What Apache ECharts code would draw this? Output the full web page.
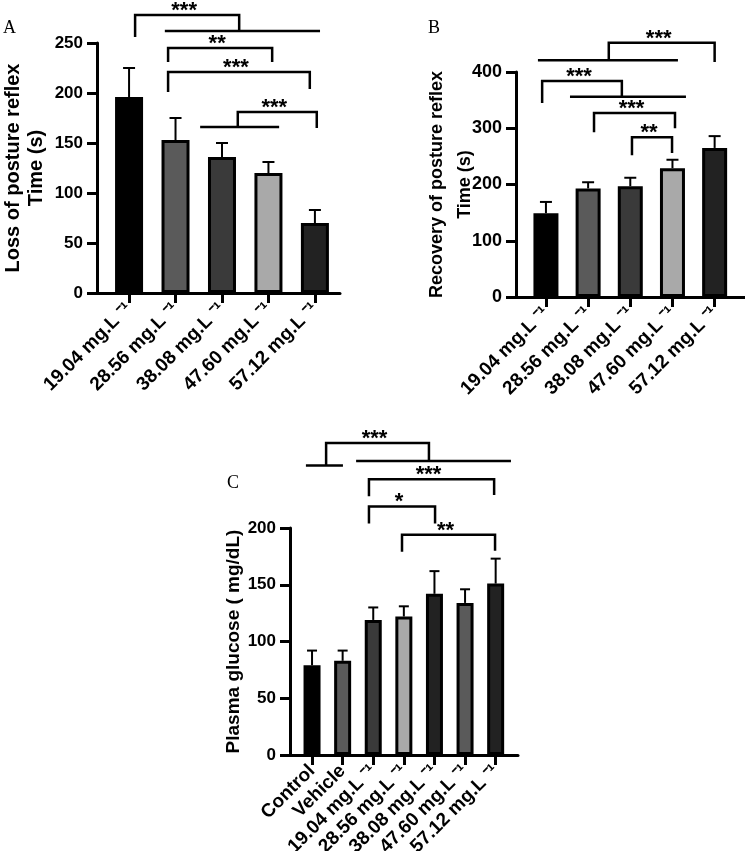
<!DOCTYPE html>
<html>
<head>
<meta charset="utf-8">
<script src="https://cdn.jsdelivr.net/npm/echarts@6/dist/echarts.min.js"></script>
<style>
html, body { margin: 0; padding: 0; background: #fff; }
#main { width: 745px; height: 851px; }
</style>
</head>
<body>
<div id="main"></div>
<script>
// ---- data ----
var dosesAB = ['19.04 mg.L ⁻¹', '28.56 mg.L ⁻¹', '38.08 mg.L ⁻¹', '47.60 mg.L ⁻¹', '57.12 mg.L ⁻¹'];
var groupsC = ['Control', 'Vehicle', '19.04 mg.L ⁻¹', '28.56 mg.L ⁻¹', '38.08 mg.L ⁻¹', '47.60 mg.L ⁻¹', '57.12 mg.L ⁻¹'];

var lossMean = [196, 153, 136, 120, 70];
var lossErr = [29, 22, 14, 11, 13];
var recoveryMean = [149, 193, 197, 229, 265];
var recoveryErr = [20, 11, 15, 15, 21];
var glucoseMean = [79, 83, 119, 122, 142, 134, 151];
var glucoseErr = [13, 9, 11, 9, 20, 12, 22];

// brackets: [from, to, top, left end, right end, label]  (x in group index, y in axis units)
var bracketsA = [
    [0.13, 2.37, 278, 256, 262, '***'],
    [0.84, 3.08, 245, 231, 231, '**'],
    [0.84, 3.89, 221, 201, 204, '***'],
    [2.34, 4.04, 181, 166, 165, '***']
];
// group lines: [from, to, y]
var spansA = [
    [0.77, 4.11, 262],
    [1.53, 3.23, 166]
];
var bracketsB = [
    [1.49, 4.00, 452, 421, 418, '***'],
    [-0.09, 1.80, 384, 345, 356, '***'],
    [1.14, 3.06, 327, 293, 300, '***'],
    [2.04, 2.99, 284, 252, 256, '**']
];
var spansB = [
    [-0.19, 3.13, 421],
    [0.57, 3.32, 356]
];
var bracketsC = [
    [0.46, 3.82, 275, 255, 259, '***'],
    [1.86, 5.95, 243, 228, 229, '***'],
    [1.86, 4.02, 219, 204, 204, '*'],
    [2.94, 5.98, 194, 179, 180, '**']
];
var spansC = [
    [-0.2, 1.01, 255],
    [1.44, 6.5, 259]
];

// ---- styles ----
var colorsAB = ['#000000', '#5a5a5a', '#3a3a3a', '#a9a9a9', '#222222'];
var colorsC = ['#000000', '#5a5a5a', '#3a3a3a', '#a9a9a9', '#222222', '#5a5a5a', '#222222'];
var FONT = 'Liberation Sans, Arial, sans-serif';

var chart = echarts.init(document.getElementById('main'));

function axisStyle() { return { color: '#000', width: 3 }; }

// x axis: groups sit on integer positions, ticks/labels only at the groups
function xAx(grid, cats, min, max, size) {
    var idx = cats.map(function (c, i) { return i; });
    return {
        type: 'value', gridIndex: grid, min: min, max: max,
        splitLine: { show: false },
        axisLine: { show: true, lineStyle: axisStyle() },
        axisTick: { show: true, customValues: idx, length: 10, lineStyle: axisStyle() },
        axisLabel: {
            customValues: idx, rotate: 45, margin: 13,
            formatter: function (v) { return cats[Math.round(v)]; },
            fontFamily: FONT, fontWeight: 'bold', fontSize: size, color: '#000'
        }
    };
}
// helper x axis whose zero is the left edge of the grid, so the y axis line sits there
function xEdge(grid) {
    return { type: 'value', gridIndex: grid, min: 0, max: 1, show: false };
}
function yAx(grid, max, step, name, gap, fs, nfs, lh) {
    return {
        type: 'value', gridIndex: grid, min: 0, max: max, interval: step, position: 'left', z: 5,
        name: name, nameLocation: 'middle', nameGap: gap, nameMoveOverlap: false,
        nameTextStyle: { fontFamily: FONT, fontWeight: 'bold', fontSize: nfs, lineHeight: lh, color: '#000' },
        axisLine: { show: true, onZero: true, onZeroAxisIndex: grid + 3, lineStyle: axisStyle() },
        axisTick: { show: true, length: 10, lineStyle: axisStyle() },
        axisLabel: { margin: 14, fontFamily: FONT, fontWeight: 'bold', fontSize: fs, color: '#000' },
        splitLine: { show: false }
    };
}

function barSeries(ax, vals, colors, width) {
    return {
        type: 'bar', xAxisIndex: ax, yAxisIndex: ax, barWidth: width, z: 2,
        data: vals.map(function (v, i) { return [i, v]; }),
        itemStyle: {
            color: function (p) { return colors[p.dataIndex]; },
            borderColor: '#000', borderWidth: 3
        }
    };
}

function errSeries(ax, means, errs, cap) {
    return {
        type: 'custom', xAxisIndex: ax, yAxisIndex: ax, z: 3,
        data: means.map(function (m, i) { return [i, m, m + errs[i]]; }),
        renderItem: function (params, api) {
            var lo = api.coord([api.value(0), api.value(1)]);
            var hi = api.coord([api.value(0), api.value(2)]);
            var st = { stroke: '#000', lineWidth: 2 };
            return {
                type: 'group', children: [
                    { type: 'line', shape: { x1: lo[0], y1: lo[1], x2: hi[0], y2: hi[1] }, style: st },
                    { type: 'line', shape: { x1: hi[0] - cap / 2, y1: hi[1], x2: hi[0] + cap / 2, y2: hi[1] }, style: st }
                ]
            };
        }
    };
}

function bracketSeries(ax, brackets, spans) {
    var rows = brackets.map(function (b) { return [b[0], b[2]]; });
    var nB = rows.length;
    spans.forEach(function (s) { rows.push([s[0], s[2]]); });
    return {
        type: 'custom', xAxisIndex: ax, yAxisIndex: ax, z: 4, clip: false, silent: true,
        data: rows,
        renderItem: function (params, api) {
            var i = params.dataIndex;
            var st = { stroke: '#000', lineWidth: 2.5, fill: null };
            if (i >= nB) {
                var s = spans[i - nB];
                var a = api.coord([s[0], s[2]]), c = api.coord([s[1], s[2]]);
                return { type: 'line', shape: { x1: a[0], y1: a[1], x2: c[0], y2: c[1] }, style: st };
            }
            var b = brackets[i];
            var p1 = api.coord([b[0], b[3]]), p2 = api.coord([b[0], b[2]]);
            var p3 = api.coord([b[1], b[2]]), p4 = api.coord([b[1], b[4]]);
            return {
                type: 'group', children: [
                    { type: 'polyline', shape: { points: [p1, p2, p3, p4] }, style: st },
                    {
                        type: 'text', x: (p2[0] + p3[0]) / 2 - 3, y: p2[1] - 4,
                        style: { text: b[5], fill: '#000', font: 'bold 22px ' + FONT, align: 'center', verticalAlign: 'middle' }
                    }
                ]
            };
        }
    };
}

function panelLetter(t, x, y) {
    return { type: 'text', left: x, top: y, style: { text: t, fill: '#000', font: '18px Liberation Serif, Times New Roman, serif' } };
}

chart.setOption({
    animation: false,
    backgroundColor: '#fff',
    grid: [
        { left: 97, top: 43, width: 243, height: 250, outerBoundsMode: 'none' },
        { left: 516, top: 72, width: 229, height: 225, outerBoundsMode: 'none' },
        { left: 290, top: 528, width: 228, height: 227, outerBoundsMode: 'none' }
    ],
    xAxis: [
        xAx(0, dosesAB, -0.69, 4.54, 19),
        xAx(1, dosesAB, -0.71, 4.72, 19),
        xAx(2, groupsC, -0.72, 6.73, 19),
        xEdge(0), xEdge(1), xEdge(2)
    ],
    yAxis: [
        yAx(0, 250, 50, 'Loss of posture reflex\nTime (s)', 49, 17, 20, 23),
        yAx(1, 400, 100, 'Recovery of posture reflex\nTime (s)', 37, 18, 18, 28),
        yAx(2, 200, 50, 'Plasma glucose ( mg/dL)', 45, 17, 19, 22)
    ],
    graphic: [
        panelLetter('A', 3, 19), panelLetter('B', 428, 19), panelLetter('C', 227, 474)
    ],
    series: [
        barSeries(0, lossMean, colorsAB, 28),
        barSeries(1, recoveryMean, colorsAB, 25),
        barSeries(2, glucoseMean, colorsC, 17),
        errSeries(0, lossMean, lossErr, 12),
        errSeries(1, recoveryMean, recoveryErr, 12),
        errSeries(2, glucoseMean, glucoseErr, 10),
        bracketSeries(0, bracketsA, spansA),
        bracketSeries(1, bracketsB, spansB),
        bracketSeries(2, bracketsC, spansC)
    ]
});
</script>
</body>
</html>
